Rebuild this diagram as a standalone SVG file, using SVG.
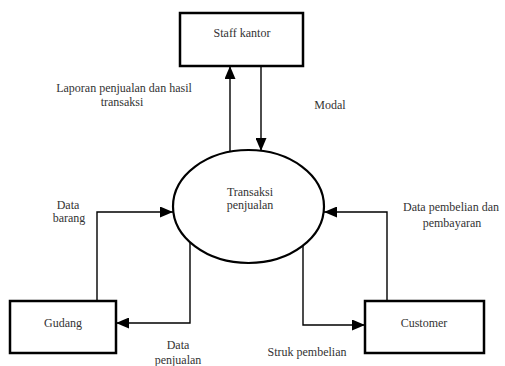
<svg xmlns="http://www.w3.org/2000/svg" width="505" height="366" viewBox="0 0 505 366">
<style>
.box{fill:#fff;stroke:#000;stroke-width:2.5}
.proc{fill:#fff;stroke:#000;stroke-width:2.2}
.conn{fill:none;stroke:#000;stroke-width:1.4}
.t{font-family:'Liberation Serif','Times New Roman',Times,serif;font-size:12px;fill:#333;text-anchor:middle}
</style>
<defs>
<marker id="ah" markerUnits="userSpaceOnUse" markerWidth="13" markerHeight="11" refX="13" refY="5.5" orient="auto">
<path d="M0,0 L13,5.5 L0,11 z" fill="#000"/>
</marker>
</defs>
<rect width="505" height="366" fill="#fff"/>
<g id="connectors">
<path class="conn" d="M230,152 L230,66" marker-end="url(#ah)"/>
<path class="conn" d="M261,66 L261,151" marker-end="url(#ah)"/>
<path class="conn" d="M97,301 L97,212 L173,212" marker-end="url(#ah)"/>
<path class="conn" d="M190,243 L190,323 L116,323" marker-end="url(#ah)"/>
<path class="conn" d="M387,301 L387,212 L324,212" marker-end="url(#ah)"/>
<path class="conn" d="M303,246 L303,325 L365,325" marker-end="url(#ah)"/>
</g>
<g id="staff-kantor">
<rect class="box" x="180" y="13" width="123" height="53"/>
<text class="t" x="242" y="37">Staff kantor</text>
</g>
<g id="transaksi-penjualan">
<ellipse class="proc" cx="248.5" cy="206.5" rx="75.5" ry="56.5"/>
<text class="t" x="250" y="196">Transaksi</text>
<text class="t" x="250" y="209">penjualan</text>
</g>
<g id="gudang">
<rect class="box" x="10" y="301" width="106" height="52"/>
<text class="t" x="63" y="327">Gudang</text>
</g>
<g id="customer">
<rect class="box" x="365" y="301" width="119" height="52"/>
<text class="t" x="424" y="327">Customer</text>
</g>
<g id="labels">
<text class="t" x="124" y="92">Laporan penjualan dan hasil</text>
<text class="t" x="122" y="106">transaksi</text>
<text class="t" x="330" y="109">Modal</text>
<text class="t" x="68" y="209">Data</text>
<text class="t" x="69" y="222">barang</text>
<text class="t" x="451" y="211">Data pembelian dan</text>
<text class="t" x="452" y="227">pembayaran</text>
<text class="t" x="178" y="349">Data</text>
<text class="t" x="178" y="364">penjualan</text>
<text class="t" x="307" y="356">Struk pembelian</text>
</g>
</svg>
